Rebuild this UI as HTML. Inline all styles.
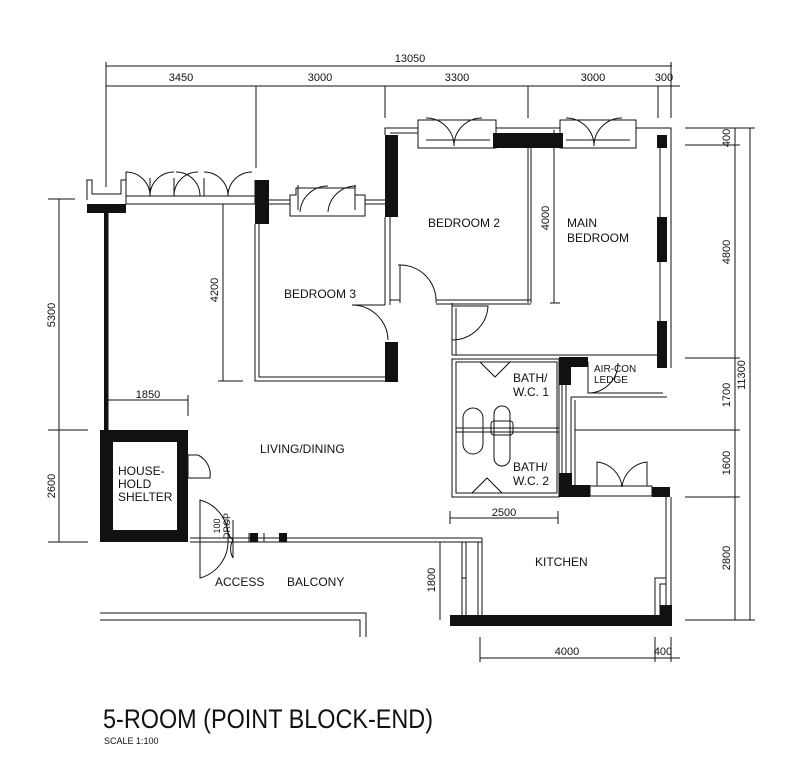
<!DOCTYPE html>
<html><head><meta charset="utf-8"><style>
html,body{margin:0;padding:0;background:#fff}
svg{display:block}
text{font-family:"Liberation Sans",sans-serif;fill:#111}
</style></head><body>
<svg width="800" height="768" viewBox="0 0 800 768" xmlns="http://www.w3.org/2000/svg">
<g stroke="#111" stroke-width="1" fill="none">
<line x1="106" y1="66" x2="672" y2="66"/>
<line x1="106" y1="86" x2="680" y2="86"/>
<line x1="106" y1="62" x2="106" y2="187"/>
<line x1="256" y1="86" x2="256" y2="168"/>
<line x1="385" y1="86" x2="385" y2="118"/>
<line x1="528" y1="86" x2="528" y2="118"/>
<line x1="658" y1="86" x2="658" y2="118"/>
<line x1="671" y1="62" x2="671" y2="118"/>
<line x1="750" y1="128" x2="750" y2="620"/>
<line x1="735" y1="128" x2="735" y2="620"/>
<line x1="685" y1="128" x2="755" y2="128"/>
<line x1="685" y1="145" x2="740" y2="145"/>
<line x1="685" y1="358" x2="740" y2="358"/>
<line x1="575" y1="430" x2="740" y2="430"/>
<line x1="685" y1="497" x2="740" y2="497"/>
<line x1="685" y1="620" x2="755" y2="620"/>
<line x1="59" y1="199" x2="59" y2="542"/>
<line x1="48" y1="199" x2="75" y2="199"/>
<line x1="48" y1="430" x2="88" y2="430"/>
<line x1="48" y1="542" x2="88" y2="542"/>
<line x1="108" y1="400" x2="188" y2="400"/><line x1="188" y1="395" x2="188" y2="416"/>
<line x1="223" y1="200" x2="223" y2="381"/><line x1="218" y1="381" x2="243" y2="381"/>
<line x1="554" y1="130" x2="554" y2="303"/><line x1="550" y1="303" x2="560" y2="303"/>
<line x1="450" y1="518" x2="558" y2="518"/><line x1="450" y1="511" x2="450" y2="524"/><line x1="558" y1="511" x2="558" y2="524"/>
<line x1="480" y1="658" x2="680" y2="658"/><line x1="480" y1="637" x2="480" y2="662"/><line x1="655" y1="637" x2="655" y2="662"/><line x1="671" y1="637" x2="671" y2="662"/>
<line x1="440" y1="542" x2="440" y2="620"/>
<path d="M87 200 V180 H92 V194 H121 V180 H126"/>
<rect x="126" y="196" width="129" height="8" fill="#fff"/>
<path d="M126 196 V180 M255 196 V180"/>
<path d="M150 196 A24 24 0 0 0 126 172 V196 M150 196 V178 M150 196 A24 24 0 0 1 174 172 M174 196 A24 24 0 0 1 198 172 M174 178 V196 M200 196 A24 24 0 0 0 176 172 M204 196 V178 M228 196 A24 24 0 0 0 204 172 M228 196 A24 24 0 0 1 252 172"/>
<path d="M255 224 V381 H390 M259 224 V377 H386"/>
<path d="M269 200 H290 M269 204 H290"/>
<path d="M290 195 H296 V188 H355 V195 H365 V216 H290 Z"/>
<path d="M298 210 V185 M300 212 A28 28 0 0 1 328 186 M328 212 A28 28 0 0 1 356 186 M355 210 V185"/>
<path d="M365 200 H385 M365 204 H385"/>
<path d="M385 217 V305 M390 217 V305 M385 305 H352 A36 36 0 0 1 388 340"/>
<path d="M385 135 V128 H418 M390 133 H418"/>
<path d="M418 128 V120 H496 V148 H418 Z M426 140 H490"/>
<path d="M426 118 A28 28 0 0 1 454 146 M454 146 A28 28 0 0 1 482 118"/>
<path d="M398 265 A36 36 0 0 1 436 303 M400 265 V303 M390 300 H400 M436 300 H531 M436 304 H531 M528 133 V303 M531 148 V303"/>
<path d="M560 128 V120 H636 V148 H560 Z M566 140 H630"/>
<path d="M566 118 A28 28 0 0 1 594 146 M594 146 A28 28 0 0 1 622 118"/>
<path d="M636 128 H671 V368 M496 128 H560"/>
<path d="M660 148 V358"/>
<path d="M452 303 V355 M456 308 V355 M452 306 H488 A36 36 0 0 1 452 340"/>
<path d="M452 355 H665 M452 359 H559"/>
<rect x="452" y="359" width="107" height="138"/>
<rect x="456" y="362" width="101" height="131"/>
<path d="M456 428 H559 M456 432 H559"/>
<path d="M480 362 L495 377 L510 362 M472 493 L487 478 L502 493"/>
<rect x="463" y="408" width="20" height="46" rx="10"/>
<rect x="494" y="406" width="16" height="60" rx="8"/>
<rect x="491" y="421" width="22" height="14" rx="3"/>
<path d="M562 385 V473 M566 385 V473"/>
<path d="M588 362 V393 H663 M571 397 H667 M571 397 V485 M575 400 V485 M588 393 A30 30 0 0 0 618 363"/>
<rect x="590" y="486" width="62" height="10" fill="#fff"/>
<path d="M597 486 V462 A28 28 0 0 1 622 487 A28 28 0 0 1 647 462 V486"/>
<path d="M666 497 V615 M671 497 V615 M655 615 V578 H666 M660 615 V584 H666"/>
<path d="M462 542 V615 M466 542 V615 M478 542 V615 M482 538 V615 M462 578 H466"/>
<path d="M190 538 H482 M190 542 H482 M249 533 V542 M264 533 V542"/>
<path d="M100 613 H366 V637 M100 620 H360 V637"/>
<path d="M188 455 H198 A22 22 0 0 1 210 478 H188 M188 455 V478"/>
<path d="M200 500 A38 38 0 0 1 228 540 A38 38 0 0 1 200 578 Z M228 520 A18 18 0 0 0 233 540 A18 18 0 0 0 233 558 M233 520 V558"/>
<path d="M108 213 V430"/>
</g>
<g fill="#111">
<rect x="87" y="204" width="39" height="9"/>
<rect x="104" y="213" width="4" height="217"/>
<rect x="255" y="180" width="14" height="44"/>
<rect x="385" y="135" width="13" height="82"/>
<rect x="385" y="342" width="13" height="40"/>
<rect x="493" y="133" width="70" height="15"/>
<rect x="657" y="135" width="10" height="13"/>
<rect x="657" y="217" width="10" height="45"/>
<rect x="657" y="321" width="10" height="47"/>
<rect x="559" y="357" width="29" height="10"/>
<rect x="559" y="357" width="12" height="28"/>
<rect x="559" y="473" width="13" height="24"/>
<rect x="559" y="485" width="31" height="12"/>
<rect x="652" y="487" width="18" height="10"/>
<rect x="450" y="615" width="222" height="11"/>
<rect x="660" y="605" width="12" height="12"/>
<path d="M100 430 H188 V542 H100 Z M113 442 V530 H177 V442 Z" fill-rule="evenodd"/>
<rect x="250" y="533" width="8" height="9"/>
<rect x="279" y="533" width="8" height="9"/>
</g>
<g font-size="11">
<text x="410" y="62" text-anchor="middle">13050</text>
<text x="181" y="81" text-anchor="middle">3450</text>
<text x="320" y="81" text-anchor="middle">3000</text>
<text x="457" y="81" text-anchor="middle">3300</text>
<text x="593" y="81" text-anchor="middle">3000</text>
<text x="664" y="81" text-anchor="middle">300</text>
<text x="148" y="398" text-anchor="middle">1850</text>
<text x="504" y="516" text-anchor="middle">2500</text>
<text x="567" y="655" text-anchor="middle">4000</text>
<text x="663" y="655" text-anchor="middle">400</text>
<g text-anchor="middle">
<text transform="translate(730,138) rotate(-90)">400</text>
<text transform="translate(730,252) rotate(-90)">4800</text>
<text transform="translate(730,395) rotate(-90)">1700</text>
<text transform="translate(730,463) rotate(-90)">1600</text>
<text transform="translate(730,558) rotate(-90)">2800</text>
<text transform="translate(745,375) rotate(-90)">11300</text>
<text transform="translate(55,315) rotate(-90)">5300</text>
<text transform="translate(55,486) rotate(-90)">2600</text>
<text transform="translate(218,290) rotate(-90)">4200</text>
<text transform="translate(549,218) rotate(-90)">4000</text>
<text transform="translate(435,580) rotate(-90)">1800</text>
<text transform="translate(220,526) rotate(-90)" font-size="9">100</text>
<text transform="translate(230,526) rotate(-90)" font-size="9">DROP</text>
</g>
</g>
<g font-size="12">
<text x="284" y="298">BEDROOM 3</text>
<text x="428" y="227">BEDROOM 2</text>
<text x="567" y="227">MAIN</text>
<text x="567" y="242">BEDROOM</text>
<text x="260" y="453">LIVING/DINING</text>
<text x="118" y="475">HOUSE-</text>
<text x="118" y="488">HOLD</text>
<text x="118" y="501">SHELTER</text>
<text x="513" y="382">BATH/</text>
<text x="513" y="396">W.C. 1</text>
<text x="513" y="471">BATH/</text>
<text x="513" y="485">W.C. 2</text>
<text x="594" y="372" font-size="10">AIR-CON</text>
<text x="594" y="383" font-size="10">LEDGE</text>
<text x="535" y="566">KITCHEN</text>
<text x="215" y="586">ACCESS</text>
<text x="287" y="586">BALCONY</text>
</g>
<text x="103" y="728" font-size="27" textLength="330" lengthAdjust="spacingAndGlyphs">5-ROOM (POINT BLOCK-END)</text>
<text x="104" y="744" font-size="9">SCALE  1:100</text>
</svg>
</body></html>
